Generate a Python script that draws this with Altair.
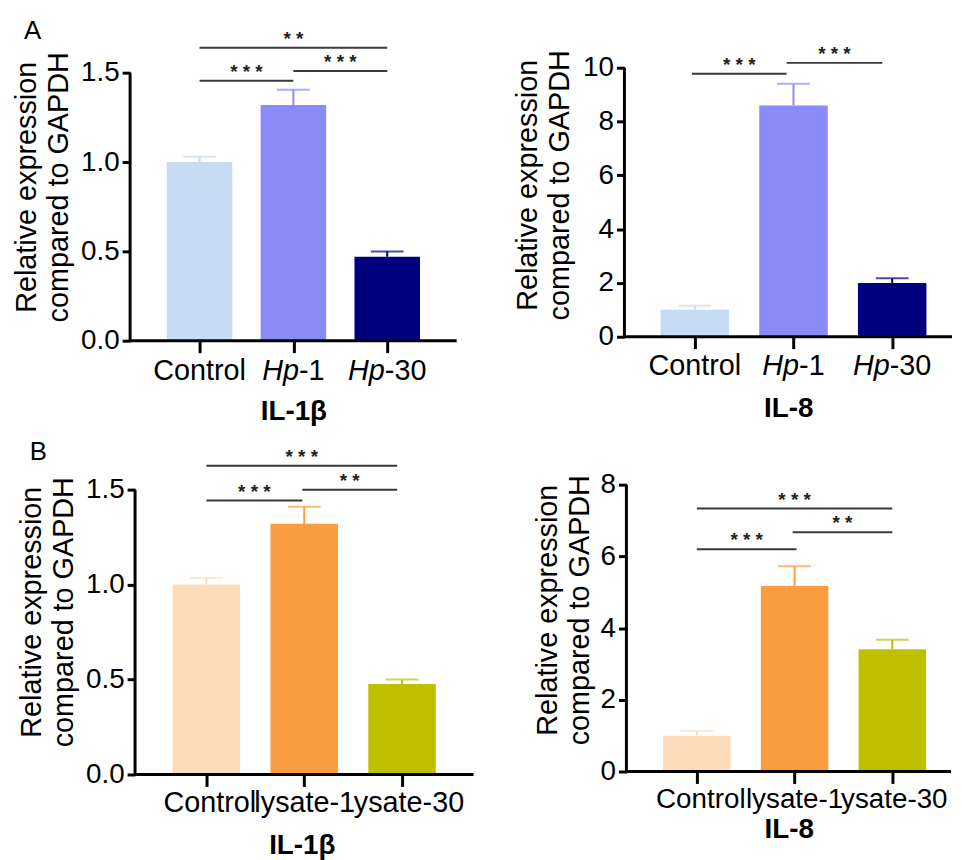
import altair as alt
import pandas as pd

FONT = "Liberation Sans"

# ---------------- data ----------------
groups_a = ["Control", "Hp-1", "Hp-30"]
groups_b = ["Control", "lysate-1", "lysate-30"]
# tick labels of panel B as they are visible in the figure (they run together)
tick_labels_b = ["Control", "lysate-1", "ysate-30"]
positions = [0, 1, 2]

il1b_a_mean = [1.00, 1.32, 0.47]
il1b_a_top = [1.03, 1.405, 0.50]
il8_a_mean = [1.0, 8.6, 2.0]
il8_a_top = [1.15, 9.4, 2.17]
il1b_b_mean = [1.00, 1.32, 0.476]
il1b_b_top = [1.035, 1.41, 0.50]
il8_b_mean = [1.0, 5.18, 3.41]
il8_b_top = [1.13, 5.73, 3.68]

colors_a = ["#c6dcf4", "#8a8af8", "#00007f"]
colors_b = ["#fddcbc", "#fb9c40", "#bfbf00"]

# significance brackets: label, from group position, to group position, height
sig_il1b_a = [("**", 0, 2, 1.64), ("***", 0, 1, 1.455), ("***", 1, 2, 1.51)]
sig_il8_a = [("***", -0.03, 0.93, 9.78), ("***", 0.93, 1.9, 10.18)]
sig_il1b_b = [("***", 0, 1.95, 1.626), ("***", 0, 0.98, 1.443), ("**", 0.98, 1.95, 1.50)]
sig_il8_b = [("***", 0, 2, 7.34), ("**", 0.98, 2, 6.68), ("***", 0, 1.02, 6.2)]

yticks_il1b = [0.0, 0.5, 1.0, 1.5]
yticks_il8_a = [0, 2, 4, 6, 8, 10]
yticks_il8_b = [0, 2, 4, 6, 8]

y_title = ["Relative expression", "compared to GAPDH"]


def text_width(s, fs):
    w = {"H": .722, "p": .556, "-": .333, "1": .556, "3": .556, "0": .556}
    return sum(w.get(c, .556) for c in s) * fs


def panel(groups, means, tops, colors, sig, yticks, yfmt, ymax, xdom, width, height,
          xtitle, bar_size, label_base, title_y, ytitle_pad, xtitle_pad,
          italic=False, letter=None, letter_dx=-106, label_fs=29,
          tick_labels=None, label_dx=(0, 0, 0), y_off=0):
    df = pd.DataFrame({"group": groups, "pos": positions, "mean": means, "top": tops})
    xs = alt.Scale(domain=xdom, nice=False, zero=False)
    ys = alt.Scale(domain=[0, ymax], nice=False, zero=True)
    cs = alt.Scale(domain=groups, range=colors)
    base = alt.Chart(df)

    bars = base.mark_bar(size=bar_size).encode(
        x=alt.X("pos:Q", scale=xs, axis=alt.Axis(
            values=positions, labels=False, grid=False, domain=False,
            ticks=True, tickSize=12, tickWidth=3, tickColor="black",
            title=xtitle, titleFont=FONT, titleFontSize=28, titleFontWeight="bold",
            titleColor="black", titlePadding=xtitle_pad)),
        y=alt.Y("mean:Q", scale=ys, axis=alt.Axis(
            values=yticks, format=yfmt, grid=False, domain=False, ticks=True, tickSize=8,
            tickWidth=3, tickColor="black", labelFont=FONT, labelFontSize=28,
            labelColor="black", labelPadding=3, title=y_title, titleFont=FONT,
            titleFontSize=29, titleFontWeight="normal", titleColor="black",
            titleLineHeight=32, titlePadding=ytitle_pad, titleY=title_y,
            offset=-y_off)),
        color=alt.Color("group:N", scale=cs, legend=None),
    )
    err = base.mark_rule(strokeWidth=2).encode(
        x=alt.X("pos:Q", scale=xs), y=alt.Y("mean:Q", scale=ys), y2="top:Q",
        color=alt.Color("group:N", scale=cs, legend=None))
    cap = base.mark_tick(orient="horizontal", size=33, thickness=2).encode(
        x=alt.X("pos:Q", scale=xs), y=alt.Y("top:Q", scale=ys),
        color=alt.Color("group:N", scale=cs, legend=None))
    one = alt.Chart(pd.DataFrame({"a": [0]}))
    yline = one.mark_rule(strokeWidth=3, color="black").encode(
        x=alt.value(y_off), y=alt.datum(0, scale=ys), y2=alt.datum(yticks[-1]))
    xline = one.mark_rule(strokeWidth=3, color="black").encode(
        x=alt.value(y_off), x2=alt.value(width), y=alt.datum(0, scale=ys))

    sdf = pd.DataFrame(sig, columns=["label", "x1", "x2", "y"])
    sdf["xm"] = (sdf["x1"] + sdf["x2"]) / 2
    sdf["stars"] = sdf["label"].apply(lambda s: " ".join(s))
    schart = alt.Chart(sdf)
    srule = schart.mark_rule(strokeWidth=2, color="#3a3a3a").encode(
        x=alt.X("x1:Q", scale=xs), x2="x2:Q", y=alt.Y("y:Q", scale=ys))
    stext = schart.mark_text(font=FONT, fontSize=19, fontWeight="bold", color="#222222",
                             baseline="alphabetic", dy=-3).encode(
        x=alt.X("xm:Q", scale=xs), y=alt.Y("y:Q", scale=ys), text="stars:N")

    layers = [bars, err, cap, yline, xline, srule, stext]

    yb = height + label_base
    labels = tick_labels if tick_labels else groups
    for g, p, ddx in zip(labels, positions, label_dx):
        if italic and g.startswith("Hp"):
            pre, suf = "Hp", g[2:]
            d = text_width(pre, label_fs) - text_width(g, label_fs) / 2 + ddx
            ldf = pd.DataFrame({"pos": [p], "pre": [pre], "suf": [suf]})
            layers.append(alt.Chart(ldf).mark_text(
                font=FONT, fontSize=label_fs, fontStyle="italic", align="right",
                baseline="alphabetic", dx=d, color="black").encode(
                x=alt.X("pos:Q", scale=xs), y=alt.value(yb), text="pre:N"))
            layers.append(alt.Chart(ldf).mark_text(
                font=FONT, fontSize=label_fs, align="left",
                baseline="alphabetic", dx=d, color="black").encode(
                x=alt.X("pos:Q", scale=xs), y=alt.value(yb), text="suf:N"))
        else:
            ldf = pd.DataFrame({"pos": [p], "lab": [g]})
            layers.append(alt.Chart(ldf).mark_text(
                font=FONT, fontSize=label_fs, align="center",
                baseline="alphabetic", dx=ddx, color="black").encode(
                x=alt.X("pos:Q", scale=xs), y=alt.value(yb), text="lab:N"))

    if letter:
        layers.append(alt.Chart(pd.DataFrame({"t": [letter]})).mark_text(
            font=FONT, fontSize=26, align="left", baseline="top", color="black").encode(
            x=alt.value(letter_dx), y=alt.value(0), text="t:N"))

    return alt.layer(*layers).properties(width=width, height=height).resolve_scale(
        color="independent")


a1 = panel(groups_a, il1b_a_mean, il1b_a_top, colors_a, sig_il1b_a, yticks_il1b, ".1f",
           1.806, [-0.687, 2.687], 329, 325, "IL-1β", 66, 40, 170, 7, 44,
           italic=True, letter="A", letter_dx=-107)
a2 = panel(groups_a, il8_a_mean, il8_a_top, colors_a, sig_il8_a, yticks_il8_a, "d",
           11.845, [-0.663, 2.556], 330, 321, "IL-8", 69, 39, 168, 8, 45,
           italic=True)
b1 = panel(groups_b, il1b_b_mean, il1b_b_top, colors_b, sig_il1b_b, yticks_il1b, ".1f",
           1.767, [-0.729, 2.68], 346, 338, "IL-1β", 68, 38, 174, 7, 44,
           letter="B", letter_dx=-101, tick_labels=tick_labels_b, label_dx=(3.5, 0.5, 7),
           y_off=5)
b2 = panel(groups_b, il8_b_mean, il8_b_top, colors_b, sig_il8_b, yticks_il8_b, "d",
           9.28, [-0.67, 2.55], 327, 335, "IL-8", 68, 37, 172, 6, 31, label_fs=28,
           tick_labels=tick_labels_b, label_dx=(4, 0, 2))

row_a = alt.hconcat(a1, a2, spacing=55).resolve_scale(x="independent", y="independent", color="independent")
row_b = alt.hconcat(b1, b2, spacing=58).resolve_scale(x="independent", y="independent", color="independent")

chart = alt.vconcat(row_a, row_b, spacing=13).resolve_scale(
    x="independent", y="independent", color="independent"
).properties(
    padding={"left": 5, "top": 7, "right": 0, "bottom": 0},
    background="white",
).configure(font=FONT).configure_view(stroke=None)

chart.save("out.html", embed_options={"renderer": "svg", "actions": False})
